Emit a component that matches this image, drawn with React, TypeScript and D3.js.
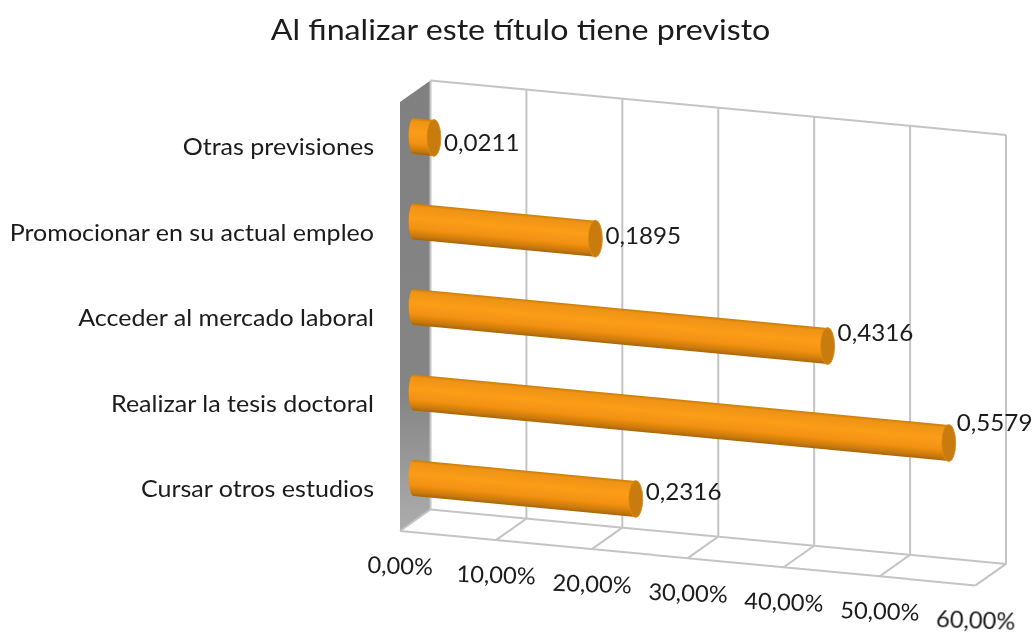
import React from "react";
import * as d3 from "d3";

const titleText = "Al finalizar este título tiene previsto";
const categories = ["Otras previsiones", "Promocionar en su actual empleo", "Acceder al mercado laboral", "Realizar la tesis doctoral", "Cursar otros estudios"];
const values = [0.0211, 0.1895, 0.4316, 0.5579, 0.2316];
const valueLabels = ["0,0211", "0,1895", "0,4316", "0,5579", "0,2316"];
const gridValues = [0, 0.1, 0.2, 0.3, 0.4, 0.5, 0.6];
const tickLabels = ["0,00%", "10,00%", "20,00%", "30,00%", "40,00%", "50,00%", "60,00%"];
const labelNudge = [13, 5, -5, -12, 1];

const FONT = "Lato, 'Open Sans', sans-serif";
const W = 1035, H = 632;
const SLOPE = 0.0945;
const DX = 30.5, DY = -21.5; // floor depth offset (front to back)
const x = d3.scaleLinear().domain([0, 0.6]).range([400, 975.5]);
const yFront = d3.scaleLinear().domain([0, 1]).range([102, 531]);
const barY = d3.scalePoint<string>().domain(categories).range([136, 478]);
const BAR_H = 36;
const RX = 7;

const pt = (v: number, depth: number, h: number): [number, number] => {
  const px = x(v) + DX * depth;
  const py = yFront(h) + DY * depth + (x(v) - x(0)) * SLOPE;
  return [px, py];
};
const line = d3.line();
const GRID = "#c4c4c4";

export default function App() {
  const barX0 = x(0) + DX * 0.48 - 1;
  return (
    <svg width={W} height={H} style={{ position: "absolute", left: 0, top: 0, background: "#fff" }}>
      <defs>
        <linearGradient id="wall" x1="0" y1="0" x2="0" y2="1">
          <stop offset="0" stopColor="#808080" />
          <stop offset="0.7" stopColor="#858585" />
          <stop offset="1" stopColor="#adadad" />
        </linearGradient>
        <linearGradient id="cyl" x1="0" y1="0" x2="0" y2="1">
          <stop offset="0" stopColor="#c97d0c" />
          <stop offset="0.08" stopColor="#ee9312" />
          <stop offset="0.4" stopColor="#fb9d18" />
          <stop offset="0.7" stopColor="#f29111" />
          <stop offset="0.9" stopColor="#c9790b" />
          <stop offset="1" stopColor="#a76507" />
        </linearGradient>
        <filter id="soft" x="-5%" y="-5%" width="110%" height="110%">
          <feGaussianBlur stdDeviation="0.45" />
        </filter>
      </defs>
      <g filter="url(#soft)">
        <text transform="translate(520.5,40) scale(1.11,1)" textAnchor="middle" fontFamily={FONT} fontSize={29} fill="#1a1a1a">{titleText}</text>

        <path d={line([pt(0, 0, 0), pt(0, 1, 0), pt(0, 1, 1), pt(0, 0, 1)])! + "Z"} fill="url(#wall)" />

        {gridValues.map((g) => (
          <path key={g} d={line([pt(g, 1, 0), pt(g, 1, 1)])!} stroke={GRID} strokeWidth={2} fill="none" />
        ))}
        <path d={line([pt(0, 1, 0), pt(0.6, 1, 0)])!} stroke={GRID} strokeWidth={2} fill="none" />
        <path d={line([pt(0, 1, 1), pt(0.6, 1, 1)])!} stroke={GRID} strokeWidth={2} fill="none" />
        <path d={line([pt(0, 0, 1), pt(0.6, 0, 1)])!} stroke={GRID} strokeWidth={2} fill="none" />
        {gridValues.map((g) => (
          <path key={"f" + g} d={line([pt(g, 0, 1), pt(g, 1, 1)])!} stroke={GRID} strokeWidth={2} fill="none" />
        ))}

        {categories.map((c, i) => {
          const len = x(values[i]) - x(0);
          const cy = barY(c)!;
          const skew = (Math.atan(SLOPE) * 180) / Math.PI;
          const d = `M0,${-BAR_H / 2} L${len},${-BAR_H / 2} L${len},${BAR_H / 2} L0,${BAR_H / 2} A5,${BAR_H / 2} 0 0 1 0,${-BAR_H / 2} Z`;
          return (
            <g key={c}>
              <g transform={`translate(${barX0},${cy}) skewY(${skew})`}>
                <path d={d} fill="url(#cyl)" />
              </g>
              <ellipse cx={barX0 + len} cy={cy + len * SLOPE} rx={RX} ry={BAR_H / 2 + 0.5} fill="#c97c0c" stroke="#e08c10" strokeWidth={0.8} />
              <text
                transform={`translate(${barX0 + len + (i === 3 ? 8 : 10)},${cy + len * SLOPE + labelNudge[i]}) scale(1.03,1)`}
                fontFamily={FONT} fontSize={23.5} fill="#1a1a1a"
              >
                {valueLabels[i]}
              </text>
              <text transform={`translate(374,${cy + 19}) scale(1.09,1)`} textAnchor="end" fontFamily={FONT} fontSize={23} fill="#1a1a1a">{c}</text>
            </g>
          );
        })}

        {gridValues.map((g, i) => {
          const tx = x(g);
          const ty = 575 + (x(g) - x(0)) * SLOPE - 1;
          return (
            <text key={"t" + g} transform={`translate(${tx},${ty}) rotate(2) scale(1.03,1)`} textAnchor="middle" fontFamily={FONT} fontSize={23} fill="#1a1a1a">
              {tickLabels[i]}
            </text>
          );
        })}
      </g>
    </svg>
  );
}
